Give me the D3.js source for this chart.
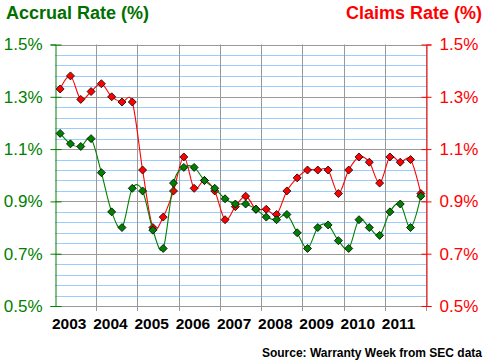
<!DOCTYPE html>
<html>
<head>
<meta charset="utf-8">
<script src="https://cdn.jsdelivr.net/npm/d3@7"></script>
<style>
  body { margin: 0; background: #ffffff; }
  svg { display: block; font-family: "Liberation Sans", Arial, sans-serif; }
</style>
</head>
<body>
<div id="chart"></div>
<script>
// data, quarterly 2003 Q1 .. 2011 Q4
const years = [2003, 2004, 2005, 2006, 2007, 2008, 2009, 2010, 2011];
const accrualRate = [
  1.16, 1.12, 1.11, 1.14,
  1.01, 0.86, 0.80, 0.95,
  0.94, 0.79, 0.72, 0.97,
  1.03, 1.03, 0.98, 0.95,
  0.91, 0.89, 0.89, 0.87,
  0.84, 0.83, 0.85, 0.78,
  0.72, 0.80, 0.81, 0.75,
  0.72, 0.83, 0.80, 0.77,
  0.86, 0.89, 0.80, 0.92
];
const claimsRate = [
  1.33, 1.38, 1.29, 1.32,
  1.35, 1.30, 1.28, 1.28,
  1.02, 0.80, 0.84, 0.94,
  1.07, 0.95, 0.98, 0.94,
  0.83, 0.88, 0.92, 0.87,
  0.87, 0.85, 0.94, 0.99,
  1.02, 1.02, 1.02, 0.93,
  1.02, 1.07, 1.05, 0.97,
  1.07, 1.05, 1.06, 0.93
];
const yTicks = [0.5, 0.7, 0.9, 1.1, 1.3, 1.5];

const width = 486, height = 364;
const margin = {top: 44.5, right: 60, bottom: 58, left: 55};
const plotW = width - margin.left - margin.right;
const plotH = height - margin.top - margin.bottom;

const green = '#008000', red = '#ff0000';

const svg = d3.select('#chart').append('svg')
    .attr('width', width)
    .attr('height', height);

// quarter index scale: 0..36 spans 2003..2012
const x = d3.scaleLinear().domain([0, years.length * 4]).range([margin.left, margin.left + plotW]);
const y = d3.scaleLinear().domain([0.5, 1.5]).range([margin.top + plotH, margin.top]);

const grid = svg.append('g');

// minor horizontal lines, every 0.04%
d3.range(0, 25).forEach((i) => {
    const v = 0.5 + i * 0.04;
    if (i % 5 === 0) return;
    grid.append('line')
        .attr('x1', x(0)).attr('x2', x(36))
        .attr('y1', Math.round(y(v)) + 0.5).attr('y2', Math.round(y(v)) + 0.5)
        .attr('stroke', '#99ccff').attr('stroke-width', 1);
});
// major horizontal
yTicks.forEach((v) => {
    grid.append('line')
        .attr('x1', x(0)).attr('x2', x(36))
        .attr('y1', Math.round(y(v)) + 0.5).attr('y2', Math.round(y(v)) + 0.5)
        .attr('stroke', '#999999').attr('stroke-width', 1);
});
// vertical year lines
d3.range(1, years.length + 1).forEach((i) => {
    grid.append('line')
        .attr('x1', Math.round(x(i * 4)) + 0.5).attr('x2', Math.round(x(i * 4)) + 0.5)
        .attr('y1', y(1.5)).attr('y2', y(0.5) + 5)
        .attr('stroke', '#999999').attr('stroke-width', 1);
});

// bottom axis labels
years.forEach((yr, i) => {
    svg.append('text')
        .attr('x', x(i * 4) - 3)
        .attr('y', 329)
        .attr('font-size', 15.5)
        .attr('font-weight', 'bold')
        .attr('fill', '#000')
        .text(yr);
});

// left axis (accrual)
const leftAxis = svg.append('g')
    .attr('transform', 'translate(' + (Math.round(x(0)) + 0.5) + ',0)')
    .call(d3.axisLeft(y).tickValues(yTicks).tickSize(5).tickFormat((d) => d.toFixed(1) + '%'));
leftAxis.select('.domain').attr('stroke', green);
leftAxis.selectAll('.tick line').attr('stroke', green).attr('x2', 6).attr('x1', -5);
leftAxis.selectAll('.tick text')
    .attr('fill', green)
    .attr('x', -13)
    .attr('font-size', 17)
    .attr('font-family', '"Liberation Sans", Arial, sans-serif');

// right axis (claims)
const rightAxis = svg.append('g')
    .attr('transform', 'translate(' + (Math.round(x(36)) + 0.5) + ',0)')
    .call(d3.axisRight(y).tickValues(yTicks).tickSize(5).tickFormat((d) => d.toFixed(1) + '%'));
rightAxis.select('.domain').attr('stroke', red);
rightAxis.selectAll('.tick line').attr('stroke', red).attr('x1', -5).attr('x2', 5);
rightAxis.selectAll('.tick text')
    .attr('fill', red)
    .attr('x', 13)
    .attr('font-size', 17)
    .attr('font-family', '"Liberation Sans", Arial, sans-serif');

// series
const line = d3.line()
    .x((d, i) => x(i + 0.5))
    .y((d) => y(d))
    .curve(d3.curveCardinal);

function drawSeries(values, color) {
    svg.append('path')
        .datum(values)
        .attr('d', line)
        .attr('fill', 'none')
        .attr('stroke', color)
        .attr('stroke-width', 1.1);
    svg.append('g').selectAll('path')
        .data(values)
        .join('path')
        .attr('d', (d, i) => {
            const cx = x(i + 0.5), cy = y(d), r = 4;
            return 'M' + cx + ',' + (cy - r) + 'L' + (cx + r) + ',' + cy + 'L' + cx + ',' + (cy + r) + 'L' + (cx - r) + ',' + cy + 'Z';
        })
        .attr('fill', color)
        .attr('stroke', '#000')
        .attr('stroke-width', 0.8);
}
drawSeries(claimsRate, red);
drawSeries(accrualRate, green);

// titles
svg.append('text')
    .attr('x', 6).attr('y', 19)
    .attr('font-size', 18).attr('font-weight', 'bold')
    .attr('fill', '#007000')
    .text('Accrual Rate (%)');
svg.append('text')
    .attr('x', 482).attr('y', 19)
    .attr('text-anchor', 'end')
    .attr('font-size', 18).attr('font-weight', 'bold')
    .attr('fill', red)
    .text('Claims Rate (%)');
svg.append('text')
    .attr('x', 482).attr('y', 357)
    .attr('text-anchor', 'end')
    .attr('font-size', 12).attr('font-weight', 'bold')
    .attr('fill', '#000')
    .text('Source: Warranty Week from SEC data');
</script>
</body>
</html>
